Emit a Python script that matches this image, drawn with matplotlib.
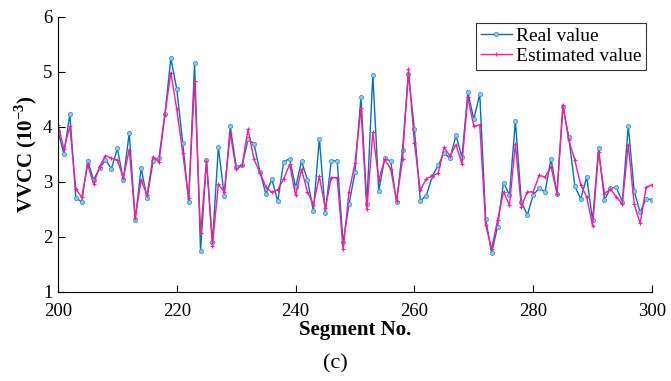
import matplotlib
matplotlib.use("Agg")
import matplotlib.pyplot as plt
import numpy as np

plt.rcParams['font.family'] = ['Liberation Serif', 'DejaVu Serif']
plt.rcParams['mathtext.fontset'] = 'custom'
plt.rcParams['mathtext.rm'] = 'Liberation Serif'
plt.rcParams['mathtext.bf'] = 'Liberation Serif:bold'

# segment numbers 200..300
segments = np.arange(200, 301)

real_value = [
    3.93, 3.51, 4.23, 2.71, 2.64, 3.38, 3.04, 3.25, 3.40, 3.24,
    3.61, 3.04, 3.89, 2.31, 3.25, 2.70, 3.38, 3.44, 4.23, 5.25,
    4.69, 3.71, 2.64, 5.16, 1.75, 3.40, 1.90, 3.63, 2.74, 4.01,
    3.28, 3.30, 3.78, 3.69, 3.19, 2.78, 3.05, 2.65, 3.37, 3.42,
    2.90, 3.38, 3.04, 2.48, 3.79, 2.44, 3.38, 3.39, 1.90, 2.60,
    3.18, 4.55, 2.60, 4.95, 2.84, 3.43, 3.38, 2.63, 3.59, 4.96,
    3.96, 2.66, 2.75, 3.10, 3.30, 3.53, 3.43, 3.85, 3.45, 4.63,
    4.14, 4.60, 2.33, 1.71, 2.19, 2.99, 2.76, 4.11, 2.64, 2.40,
    2.76, 2.89, 2.82, 3.42, 2.79, 4.37, 3.81, 2.93, 2.69, 3.09,
    2.30, 3.61, 2.67, 2.89, 2.90, 2.64, 4.02, 2.83, 2.45, 2.69,
    2.68,
]

estimated_value = [
    4.04, 3.60, 4.01, 2.88, 2.72, 3.32, 2.96, 3.28, 3.48, 3.43,
    3.40, 3.07, 3.59, 2.34, 3.04, 2.76, 3.46, 3.36, 4.22, 4.99,
    4.32, 3.53, 2.70, 4.84, 2.07, 3.38, 1.84, 2.96, 2.82, 3.89,
    3.23, 3.30, 3.96, 3.41, 3.17, 2.91, 2.81, 2.86, 3.06, 3.32,
    2.76, 3.23, 2.82, 2.59, 3.10, 2.52, 3.08, 3.08, 1.78, 2.82,
    3.34, 4.34, 2.50, 3.90, 3.04, 3.41, 3.24, 2.66, 3.41, 5.05,
    3.71, 2.85, 3.06, 3.11, 3.16, 3.63, 3.47, 3.68, 3.33, 4.54,
    4.01, 4.04, 2.22, 1.78, 2.31, 2.82, 2.58, 3.69, 2.55, 2.82,
    2.82, 3.12, 3.09, 3.28, 2.79, 4.40, 3.76, 3.40, 2.95, 2.73,
    2.20, 3.54, 2.79, 2.87, 2.73, 2.60, 3.68, 2.60, 2.25, 2.90,
    2.95,
]

fig = plt.figure(figsize=(6.71, 3.81), dpi=100)
ax = fig.add_axes([0.0864, 0.2336, 0.8853, 0.7218])

ax.plot(segments, real_value, color='#0072BD', lw=1.0, marker='o', ms=3,
        mfc='#8fc8ee', mec='#3a9ad9', mew=0.6, label='Real value')
ax.plot(segments, estimated_value, color='#FF1AA0', lw=1.0, marker='+', ms=3.5,
        mew=0.8, label='Estimated value')

ax.set_xlim(200, 300)
ax.set_ylim(1, 6)
ax.set_xticks([200, 220, 240, 260, 280, 300])
ax.set_yticks([1, 2, 3, 4, 5, 6])
ax.spines['top'].set_visible(False)
ax.spines['right'].set_visible(False)
ax.tick_params(direction='in', labelsize=13.5, length=5, width=0.8)
ax.tick_params(axis='x', pad=8)
ax.tick_params(axis='y', pad=4)

ax.set_xlabel('Segment No.', fontsize=15, fontweight='bold', labelpad=0)
ax.set_ylabel(r'VVCC (10$^{\mathbf{-3}}$)', fontsize=15, fontweight='bold', labelpad=3)

leg = ax.legend(loc='upper right', fontsize=14, frameon=True, fancybox=False,
                edgecolor='black', handlelength=1.6, handletextpad=0.2,
                borderpad=0.25, labelspacing=0.1, borderaxespad=0.3)
leg.get_frame().set_linewidth(0.8)

fig.text(0.5, 0.045, '(c)', ha='center', va='center', fontsize=16)

fig.savefig('out.png', dpi=100)
